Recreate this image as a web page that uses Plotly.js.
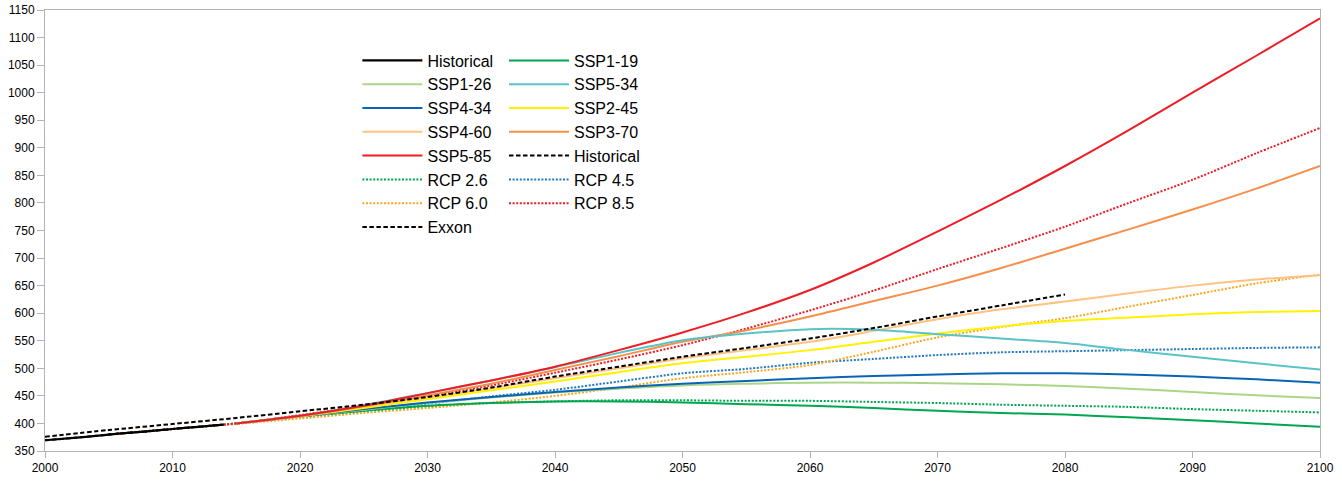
<!DOCTYPE html>
<html>
<head>
<meta charset="utf-8">
<script src="https://cdn.plot.ly/plotly-3.0.1.min.js"></script>
<style>html,body{margin:0;padding:0;background:#fff;}#chart{width:1342px;height:482px;}</style>
</head>
<body>
<div id="chart"></div>
<script>
// ---- data ----
const histYears = [2000, 2002, 2004, 2006, 2008, 2010, 2012, 2014];
const histCO2   = [369.5, 373.2, 377.5, 381.9, 385.6, 389.9, 393.9, 397.8];

const sspYears = [2015, 2020, 2025, 2030, 2035, 2040, 2045, 2050, 2055, 2060, 2065, 2070, 2075, 2080, 2085, 2090, 2095, 2100];
const ssp119 = [400, 413, 423, 432, 437, 440, 440, 438, 435, 432, 428, 423, 419, 416, 411, 406, 400, 394];
const ssp126 = [400, 413, 425, 437, 447, 456, 463, 469, 472, 474, 474, 473, 471, 468, 463, 457, 451, 446];
const ssp534 = [400, 414, 433, 455, 478, 502, 528, 551, 563, 571, 570, 562, 554, 546, 533, 521, 509, 498];
const ssp434 = [400, 413, 426, 438, 448, 457, 465, 472, 477, 482, 486, 489, 491, 491, 489, 485, 480, 474];
const ssp245 = [400, 413, 428, 444, 460, 476, 493, 509, 521, 533, 548, 563, 576, 586, 592, 598, 602, 604];
const ssp460 = [400, 413, 430, 446, 464, 482, 500, 518, 533, 548, 568, 589, 607, 621, 636, 650, 661, 669];
const ssp370 = [400, 413, 431, 451, 472, 497, 522, 548, 569, 594, 622, 650, 682, 717, 752, 788, 826, 867];
const ssp585 = [400, 414, 432, 455, 478, 503, 533, 565, 601, 642, 692, 748, 806, 867, 932, 1000, 1067, 1135];

const rcpYears = [2005, 2010, 2015, 2020, 2025, 2030, 2035, 2040, 2045, 2050, 2055, 2060, 2065, 2070, 2075, 2080, 2085, 2090, 2095, 2100];
const rcp26 = [380, 390, 400, 412, 422, 431, 437, 440, 442, 442, 441, 441, 439, 437, 434, 432, 430, 426, 423, 420];
const rcp45 = [380, 390, 400, 412, 424, 436, 449, 461, 476, 491, 499, 510, 517, 524, 529, 531, 533, 535, 537, 538];
const rcp60 = [380, 390, 399, 409, 419, 428, 438, 450, 465, 482, 493, 506, 530, 556, 575, 591, 612, 633, 654, 670];
const rcp85 = [380, 390, 400, 415, 432, 449, 469, 492, 516, 542, 572, 605, 641, 680, 718, 757, 800, 842, 890, 936];

const exxonYears = [2000, 2005, 2010, 2015, 2020, 2025, 2030, 2035, 2040, 2045, 2050, 2055, 2060, 2065, 2070, 2075, 2080];
const exxon = [376, 388, 399, 410, 422, 434, 448, 465, 485, 503, 521, 537, 554, 573, 594, 614, 634];

const xTicks = [2000, 2010, 2020, 2030, 2040, 2050, 2060, 2070, 2080, 2090, 2100];
const yTicks = [350, 400, 450, 500, 550, 600, 650, 700, 750, 800, 850, 900, 950, 1000, 1050, 1100, 1150];

// ---- styling ----
const DOT = '2px,1.6px';
const DASH = '4.5px,2.5px';
function tr(name, x, y, color, dash, legend, rank, width) {
  return {
    type: 'scatter', mode: 'lines', name: name, x: x, y: y,
    line: {color: color, width: width || 2, dash: dash || 'solid', shape: 'spline', smoothing: 0.8},
    legend: legend, legendrank: rank, hoverinfo: 'x+y+name'
  };
}

const data = [
  tr('RCP 2.6', rcpYears, rcp26, '#00a651', DOT, 'legend', 6),
  tr('RCP 4.5', rcpYears, rcp45, '#1f78c1', DOT, 'legend2', 6),
  tr('RCP 6.0', rcpYears, rcp60, '#f7a823', DOT, 'legend', 7),
  tr('RCP 8.5', rcpYears, rcp85, '#ee1c25', DOT, 'legend2', 7),
  tr('SSP1-19', sspYears, ssp119, '#00a651', null, 'legend2', 1),
  tr('SSP1-26', sspYears, ssp126, '#acd58a', null, 'legend', 2),
  tr('SSP4-34', sspYears, ssp434, '#0a64b4', null, 'legend', 3),
  tr('SSP4-60', sspYears, ssp460, '#ffc281', null, 'legend', 4),
  tr('SSP2-45', sspYears, ssp245, '#fff200', null, 'legend2', 3),
  tr('SSP3-70', sspYears, ssp370, '#f78f4b', null, 'legend2', 4),
  tr('SSP5-34', sspYears, ssp534, '#5bc3c5', null, 'legend2', 2),
  tr('SSP5-85', sspYears, ssp585, '#ee1c25', null, 'legend', 5),
  tr('Exxon', exxonYears, exxon, '#000000', DASH, 'legend', 8),
  tr('Historical', histYears, histCO2, '#000000', DASH, 'legend2', 5),
  tr('Historical', histYears, histCO2, '#000000', null, 'legend', 1, 2.2)
];

const FONT = 'Liberation Sans, Arial, sans-serif';
const legendCommon = {
  font: {family: FONT, size: 16, color: '#000'},
  bgcolor: 'rgba(0,0,0,0)', borderwidth: 0,
  xanchor: 'left', yanchor: 'top', traceorder: 'normal',
  itemwidth: 60, tracegroupgap: 0, itemclick: false, itemdoubleclick: false
};

const layout = {
  width: 1342, height: 482,
  margin: {l: 45, r: 22, t: 10, b: 31},
  paper_bgcolor: '#fff', plot_bgcolor: '#fff',
  font: {family: FONT, size: 12, color: '#000'},
  showlegend: true,
  legend: Object.assign({}, legendCommon, {x: 0.245, y: 0.924}),
  legend2: Object.assign({}, legendCommon, {x: 0.360, y: 0.924}),
  xaxis: {
    range: [2000, 2100], tickvals: xTicks, ticktext: xTicks.map(String),
    showgrid: false, zeroline: false,
    showline: true, linecolor: '#b3b3b3', linewidth: 1, mirror: true,
    ticks: 'outside', ticklen: 6, tickcolor: '#b3b3b3', tickwidth: 1,
    tickfont: {family: FONT, size: 12, color: '#000'}
  },
  yaxis: {
    range: [350, 1150], tickvals: yTicks, ticktext: yTicks.map(String),
    showgrid: false, zeroline: false,
    showline: true, linecolor: '#b3b3b3', linewidth: 1, mirror: true,
    ticks: 'outside', ticklen: 7, tickcolor: '#b3b3b3', tickwidth: 1,
    tickfont: {family: FONT, size: 12, color: '#000'}
  }
};

Plotly.newPlot('chart', data, layout, {displayModeBar: false, staticPlot: true});
</script>
</body>
</html>
